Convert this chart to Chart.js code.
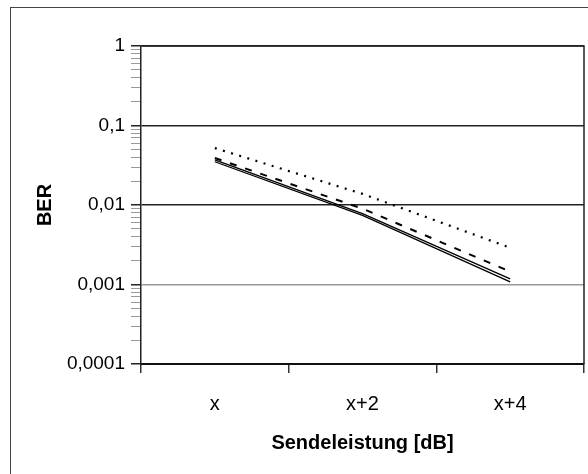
<!DOCTYPE html>
<html>
<head>
<meta charset="utf-8">
<script src="https://cdn.jsdelivr.net/npm/chart.js@4/dist/chart.umd.min.js"></script>
<style>
  html, body { margin: 0; padding: 0; background: #fff; }
  #wrap { position: relative; width: 588px; height: 474px; overflow: hidden; }
  #frame { position: absolute; left: 10px; top: 7px; width: 700px; height: 600px; border: 1px solid #444; box-sizing: border-box; }
  canvas { position: absolute; left: 0; top: 0; }
</style>
</head>
<body>
<div id="wrap">
  <div id="frame"></div>
  <canvas id="c" width="588" height="474"></canvas>
</div>
<script>
// Categories (x axis)
const categories = ["x", "x+2", "x+4"];

// Series values (BER)
const seriesSolidA = [0.037, 0.0078, 0.00118];
const seriesSolidB = [0.035, 0.0074, 0.00108];
const seriesDashed = [0.039, 0.0090, 0.00145];
const seriesDotted = [0.052, 0.0138, 0.0029];

// Y tick labels (major decades)
const majorTickValues = [1, 0.1, 0.01, 0.001, 0.0001];
const majorTickLabels = ["1", "0,1", "0,01", "0,001", "0,0001"];

const FONT = "'Liberation Sans', Arial, sans-serif";

function isMajor(v) {
  return majorTickValues.some(m => Math.abs(Math.log10(v) - Math.log10(m)) < 1e-6);
}

const borderPlugin = {
  id: 'plotBorder',
  afterDraw(chart) {
    const a = chart.chartArea, ctx = chart.ctx;
    ctx.save();
    ctx.strokeStyle = '#222';
    ctx.lineWidth = 1.5;
    ctx.beginPath();
    ctx.moveTo(a.left, a.top);
    ctx.lineTo(a.right, a.top);
    ctx.lineTo(a.right, a.bottom);
    ctx.stroke();
    ctx.restore();
  }
};

new Chart(document.getElementById('c'), {
  type: 'line',
  data: {
    labels: categories,
    datasets: [
      { label: 'A', data: seriesSolidA, borderColor: '#000', borderWidth: 1.3, pointRadius: 0, tension: 0, fill: false },
      { label: 'B', data: seriesSolidB, borderColor: '#000', borderWidth: 1.3, pointRadius: 0, tension: 0, fill: false },
      { label: 'C', data: seriesDashed, borderColor: '#000', borderWidth: 2, borderDash: [7, 9], pointRadius: 0, tension: 0, fill: false },
      { label: 'D', data: seriesDotted, borderColor: '#000', borderWidth: 2.2, borderDash: [2, 6.5], pointRadius: 0, tension: 0, fill: false }
    ]
  },
  options: {
    responsive: false,
    animation: false,
    events: [],
    layout: { padding: { top: 46, right: 4, left: 0, bottom: 0 } },
    plugins: { legend: { display: false }, tooltip: { enabled: false } },
    scales: {
      x: {
        type: 'category',
        offset: true,
        grid: { offset: true, drawOnChartArea: false, tickLength: 9, tickColor: '#333', lineWidth: 1.5 },
        border: { display: true, color: '#111', width: 2 },
        ticks: { color: '#000', font: { family: FONT, size: 20 }, padding: 19, maxRotation: 0 },
        title: { display: true, text: 'Sendeleistung [dB]', color: '#000', font: { family: FONT, size: 20, weight: 'bold' }, padding: { top: 0, bottom: 19 } },
        afterFit(scale) { scale.height = 110; }
      },
      y: {
        type: 'logarithmic',
        min: 0.0001,
        max: 1,
        afterBuildTicks(scale) {
          const t = [];
          for (let i = majorTickValues.length - 1; i >= 0; i--) {
            const base = majorTickValues[i];
            t.push({ value: base, major: true });
            if (i > 0) {
              for (let m = 2; m <= 9; m++) t.push({ value: base * m, major: false });
            }
          }
          scale.ticks = t;
        },
        ticks: {
          autoSkip: false,
          color: '#000',
          font: { family: FONT, size: 19 },
          padding: 6,
          callback(value) {
            const idx = majorTickValues.findIndex(m => Math.abs(Math.log10(value) - Math.log10(m)) < 1e-6);
            return idx >= 0 ? majorTickLabels[idx] : '';
          }
        },
        grid: {
          tickLength: 10,
          lineWidth(ctx) { return isMajor(ctx.tick.value) ? 1.5 : 1; },
          color(ctx) {
            const v = ctx.tick.value;
            if (!isMajor(v)) return 'rgba(0,0,0,0)';
            if (Math.abs(v - 0.001) < 1e-9) return '#999';
            return '#222';
          },
          tickColor(ctx) { return isMajor(ctx.tick.value) ? '#222' : '#999'; }
        },
        border: { display: true, color: '#222', width: 1.5 },
        title: { display: true, text: 'BER', color: '#000', font: { family: FONT, size: 20, weight: 'bold' }, padding: { top: 33, bottom: 0 } },
        afterFit(scale) { scale.width = 141; }
      }
    }
  },
  plugins: [borderPlugin]
});
</script>
</body>
</html>
